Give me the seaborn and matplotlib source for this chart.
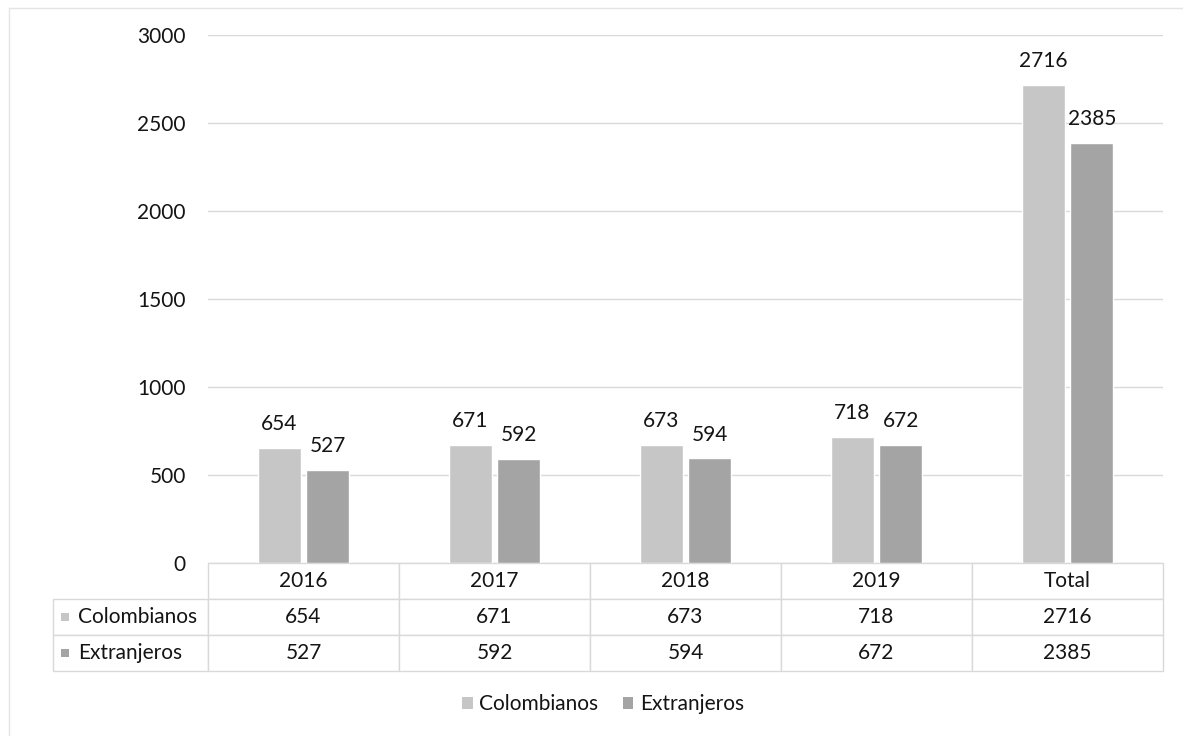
import pandas as pd
import seaborn as sns
import matplotlib.pyplot as plt
from matplotlib.patches import Rectangle
from matplotlib.lines import Line2D

# ===== data =====
categories = ["2016", "2017", "2018", "2019", "Total"]
colombianos = [654, 671, 673, 718, 2716]
extranjeros = [527, 592, 594, 672, 2385]
series_names = ["Colombianos", "Extranjeros"]
colors = ["#c6c6c6", "#a4a4a4"]

df = pd.DataFrame({
    "Año": categories * 2,
    "Serie": [series_names[0]] * 5 + [series_names[1]] * 5,
    "Valor": colombianos + extranjeros,
})

sns.set_theme(style="white")
plt.rcParams["font.family"] = ["Lato", "DejaVu Sans"]
txt = "#141414"
grid_c = "#d9d9d9"
fs = 15

W, H = 1183, 736
fig = plt.figure(figsize=(W / 100, H / 100), dpi=100)
fig.patch.set_facecolor("white")

# plot area in pixels
left, right, top, bottom = 208, 1163, 35, 563
ax = fig.add_axes([left / W, (H - bottom) / H, (right - left) / W, (bottom - top) / H])

sns.barplot(data=df, x="Año", y="Valor", hue="Serie", order=categories,
            hue_order=series_names, palette=colors, width=0.51, gap=0.12,
            saturation=1, legend=False, ax=ax)

for cont in ax.containers:
    ax.bar_label(cont, fmt="%d", padding=10, fontsize=fs, color=txt)

ax.set_ylim(0, 3000)
ax.set_yticks(range(0, 3001, 500))
ax.set_xlim(-0.5, 4.5)
ax.yaxis.grid(True, color=grid_c, linewidth=1)
ax.set_axisbelow(True)
ax.set_xticks([])
ax.set_xlabel("")
ax.set_ylabel("")
ax.tick_params(axis="y", length=0, pad=16, labelsize=fs, labelcolor=txt)
for s in ax.spines.values():
    s.set_visible(False)

# ===== data table =====
tab_left, row_h = 53, 36
cell_text = [[""] + categories,
             [series_names[0]] + [str(v) for v in colombianos],
             [series_names[1]] + [str(v) for v in extranjeros]]
aw, ah = right - left, bottom - top
label_w, col_w = 155, (right - left) / 5
tot_w = label_w + 5 * col_w
table = ax.table(cellText=cell_text,
                 colWidths=[label_w / tot_w] + [col_w / tot_w] * 5,
                 cellLoc="center",
                 bbox=[(tab_left - left) / aw, -3 * row_h / ah, tot_w / aw, 3 * row_h / ah])
table.auto_set_font_size(False)
for (r, c), cell in table.get_celld().items():
    cell.set_edgecolor(grid_c)
    cell.set_linewidth(1)
    cell.get_text().set_fontsize(fs)
    cell.get_text().set_color(txt)
    if r == 0 and c == 0:
        cell.visible_edges = ""
    if c == 0 and r > 0:
        cell.get_text().set_ha("left")
        cell.PAD = 0.16
for i, col in enumerate(colors):
    yc = bottom + (i + 1.5) * row_h
    fig.patches.append(Rectangle((61 / W, (H - yc - 4) / H), 8 / W, 8 / H,
                                 transform=fig.transFigure, facecolor=col,
                                 edgecolor="none"))

# ===== legend =====
handles = [Rectangle((0, 0), 1, 1, facecolor=c, edgecolor="none") for c in colors]
fig.legend(handles, series_names, loc="center", bbox_to_anchor=(603 / W, 1 - 704 / H),
           ncol=2, frameon=False, fontsize=fs, handlelength=0.5, handleheight=0.5,
           handletextpad=0.3, columnspacing=1.2, labelcolor=txt)

# faint chart border
fig.add_artist(Line2D([9 / W, 9 / W], [0, 1 - 8 / H], color="#e4e4e4", lw=1))
fig.add_artist(Line2D([9 / W, 1], [1 - 8 / H, 1 - 8 / H], color="#e4e4e4", lw=1))

fig.savefig("out.png", dpi=100, facecolor="white")
